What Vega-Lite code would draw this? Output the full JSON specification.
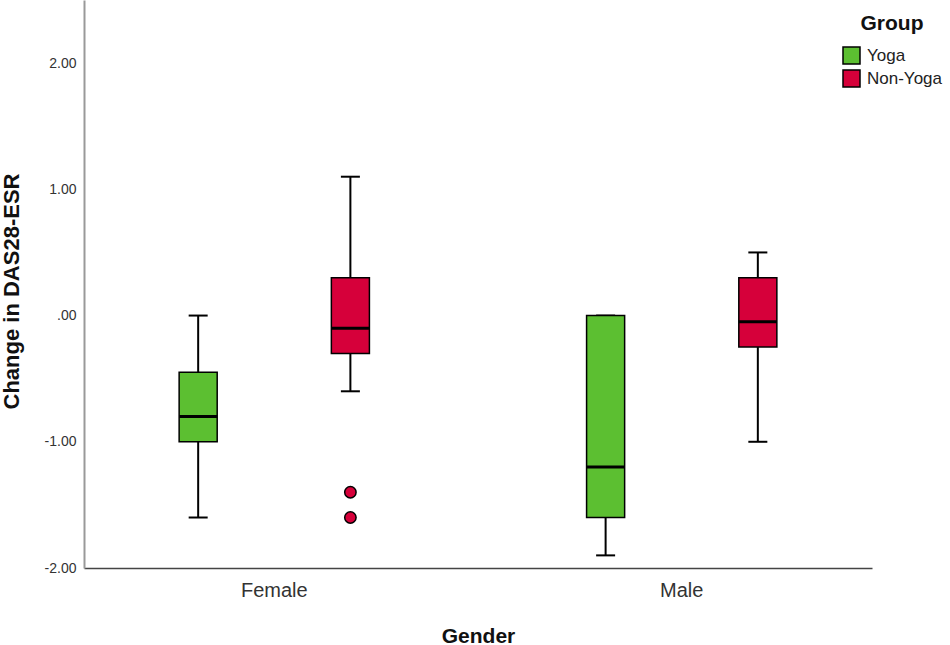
{
  "$schema": "https://vega.github.io/schema/vega-lite/v6.json",
  "autosize": "none",
  "width": 788,
  "height": 568,
  "padding": {"left": 84, "top": 0, "right": 78, "bottom": 77},
  "background": "white",
  "config": {
    "font": "Liberation Sans",
    "view": {"stroke": null},
    "legend": {
      "orient": "none",
      "legendX": 758,
      "legendY": 13,
      "padding": 0,
      "titleAnchor": "middle",
      "titleFontSize": 21,
      "titleFontWeight": "bold",
      "titleColor": "#111",
      "titlePadding": 12,
      "labelFontSize": 17,
      "labelColor": "#222",
      "labelOffset": 6,
      "symbolType": "square",
      "symbolSize": 289,
      "symbolStrokeColor": "black",
      "symbolStrokeWidth": 1.5,
      "symbolOpacity": 1,
      "rowPadding": 0
    }
  },
  "datasets": {
    "boxes": [
      {"gender": "Female", "group": "Yoga", "lower": -1.6, "q1": -1.0, "median": -0.8, "q3": -0.45, "upper": 0.0},
      {"gender": "Female", "group": "Non-Yoga", "lower": -0.6, "q1": -0.3, "median": -0.1, "q3": 0.3, "upper": 1.1},
      {"gender": "Male", "group": "Yoga", "lower": -1.9, "q1": -1.6, "median": -1.2, "q3": 0.0, "upper": 0.0},
      {"gender": "Male", "group": "Non-Yoga", "lower": -1.0, "q1": -0.25, "median": -0.05, "q3": 0.3, "upper": 0.5}
    ],
    "outliers": [
      {"gender": "Female", "group": "Non-Yoga", "value": -1.4},
      {"gender": "Female", "group": "Non-Yoga", "value": -1.6}
    ]
  },
  "encoding": {
    "x": {
      "field": "gender",
      "type": "nominal",
      "sort": ["Female", "Male"],
      "scale": {"paddingInner": 0.066, "paddingOuter": 0},
      "axis": {
        "title": "Gender",
        "titleFontSize": 21,
        "titleFontWeight": "bold",
        "titleColor": "#111",
        "titleBaseline": "alphabetic",
        "titleY": 74,
        "labelAngle": 0,
        "labelFontSize": 20,
        "labelColor": "#333",
        "labelPadding": 12,
        "ticks": false,
        "tickSize": 0,
        "domainColor": "#444",
        "domainWidth": 1.5,
        "grid": false
      }
    },
    "xOffset": {
      "field": "group",
      "type": "nominal",
      "sort": ["Yoga", "Non-Yoga"],
      "scale": {"paddingInner": 0.75, "paddingOuter": 0.625}
    },
    "color": {
      "field": "group",
      "type": "nominal",
      "title": "Group",
      "sort": ["Yoga", "Non-Yoga"],
      "scale": {"domain": ["Yoga", "Non-Yoga"], "range": ["#5cbf31", "#d6003a"]}
    }
  },
  "layer": [
    {
      "data": {"name": "boxes"},
      "mark": {"type": "rule", "color": "black", "strokeWidth": 2},
      "encoding": {
        "color": {"value": "black"},
        "y": {
          "field": "lower",
          "type": "quantitative",
          "scale": {"domain": [-2, 2.5], "nice": false, "zero": false},
          "axis": {
            "title": "Change in DAS28-ESR",
            "titleFontSize": 22,
            "titleFontWeight": "bold",
            "titleColor": "#111",
            "titleAngle": -90,
            "titleX": -73,
            "titleY": 291,
            "titleAlign": "center",
            "titleBaseline": "middle",
            "values": [-2, -1, 0, 1, 2],
            "labelExpr": "datum.value == 0 ? '.00' : replace(format(datum.value, '.2f'), '\u2212', '-')",
            "labelFontSize": 14,
            "labelColor": "#333",
            "labelPadding": 8,
            "ticks": false,
            "tickSize": 0,
            "domainColor": "#999",
            "domainWidth": 2,
            "grid": false
          }
        },
        "y2": {"field": "q1"}
      }
    },
    {
      "data": {"name": "boxes"},
      "mark": {"type": "rule", "color": "black", "strokeWidth": 2},
      "encoding": {
        "color": {"value": "black"},
        "y": {"field": "q3", "type": "quantitative"},
        "y2": {"field": "upper"}
      }
    },
    {
      "data": {"name": "boxes"},
      "mark": {"type": "tick", "size": 19, "thickness": 2, "orient": "horizontal", "opacity": 1},
      "encoding": {"color": {"value": "black"}, "y": {"field": "lower", "type": "quantitative"}}
    },
    {
      "data": {"name": "boxes"},
      "mark": {"type": "tick", "size": 19, "thickness": 2, "orient": "horizontal", "opacity": 1},
      "encoding": {"color": {"value": "black"}, "y": {"field": "upper", "type": "quantitative"}}
    },
    {
      "data": {"name": "boxes"},
      "mark": {"type": "bar", "stroke": "black", "strokeWidth": 1.5, "opacity": 1},
      "encoding": {
        "y": {"field": "q1", "type": "quantitative"},
        "y2": {"field": "q3"}
      }
    },
    {
      "data": {"name": "boxes"},
      "mark": {"type": "tick", "size": 38, "thickness": 3, "orient": "horizontal", "opacity": 1},
      "encoding": {"color": {"value": "black"}, "y": {"field": "median", "type": "quantitative"}}
    },
    {
      "data": {"name": "outliers"},
      "mark": {"type": "point", "filled": true, "size": 130, "stroke": "black", "strokeWidth": 1.5, "opacity": 1, "shape": "circle"},
      "encoding": {
        "y": {"field": "value", "type": "quantitative"}
      }
    }
  ]
}
